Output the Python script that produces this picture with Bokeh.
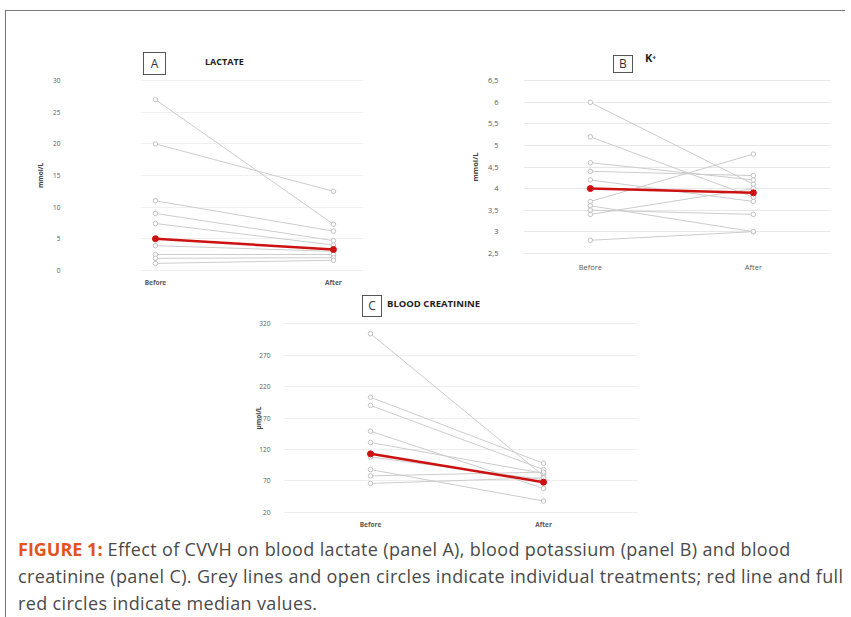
from bokeh.plotting import figure
from bokeh.models import Range1d, FixedTicker, Div
from bokeh.layouts import column, row
from bokeh.embed import file_html
from bokeh.resources import INLINE

# ---------------- data ----------------
categories = ["Before", "After"]

lactate_before = [27, 20, 11, 9, 7.4, 3.9, 2.5, 1.9, 1.1]
lactate_after = [7.3, 12.5, 6.2, 4.7, 4.0, 3.0, 2.5, 2.0, 1.6]
lactate_median = [5.0, 3.3]
lactate_ticks = [0, 5, 10, 15, 20, 25, 30]
lactate_tick_labels = ["0", "5", "10", "15", "20", "25", "30"]

potassium_before = [6.0, 5.2, 4.6, 4.4, 4.2, 3.7, 3.6, 3.5, 3.4, 2.8]
potassium_after = [4.1, 3.8, 4.2, 4.3, 3.7, 4.8, 3.0, 3.4, 4.0, 3.0]
potassium_median = [4.0, 3.9]
potassium_ticks = [2.5, 3, 3.5, 4, 4.5, 5, 5.5, 6, 6.5]
potassium_tick_labels = ["2,5", "3", "3,5", "4", "4,5", "5", "5,5", "6", "6,5"]

creatinine_before = [304, 203, 190, 149, 131, 108, 88, 78, 66]
creatinine_after = [78, 98, 88, 58, 82, 72, 38, 84, 75]
creatinine_median = [113, 68]
creatinine_ticks = [20, 70, 120, 170, 220, 270, 320]
creatinine_tick_labels = ["20", "70", "120", "170", "220", "270", "320"]

GREY = "#cccccc"
RED = "#cc1111"
TXT = "#595959"


def panel(width, height, borders, xr, yr, before, after, median, ticks, tick_labels,
          ylabel, tick_font, ylab_font, xlab_bold, label_standoff, ylab_standoff,
          grid_color):
    left, right, top, bottom = borders
    p = figure(width=width, height=height, x_range=Range1d(*xr), y_range=Range1d(*yr),
               output_backend="svg", toolbar_location=None,
               min_border_left=left, min_border_right=right,
               min_border_top=top, min_border_bottom=bottom)
    p.outline_line_color = None
    p.background_fill_color = "white"
    p.border_fill_color = "white"
    p.xgrid.visible = False
    p.ygrid.grid_line_color = grid_color
    p.ygrid.grid_line_width = 1

    xs = list(range(len(categories)))
    p.xaxis.ticker = FixedTicker(ticks=xs)
    p.xaxis.major_label_overrides = {x: c for x, c in zip(xs, categories)}
    p.yaxis.ticker = FixedTicker(ticks=ticks)
    p.yaxis.major_label_overrides = {t: l for t, l in zip(ticks, tick_labels)}
    for ax in (p.xaxis[0], p.yaxis[0]):
        ax.axis_line_color = None
        ax.major_tick_line_color = None
        ax.minor_tick_line_color = None
        ax.major_tick_out = 0
        ax.major_tick_in = 0
        ax.minor_tick_out = 0
        ax.major_label_text_color = TXT
        ax.major_label_text_font = "Open Sans"
        ax.major_label_text_font_size = tick_font
    p.xaxis.major_label_standoff = 4
    if xlab_bold:
        p.xaxis.major_label_text_font_style = "bold"
    p.yaxis.major_label_standoff = label_standoff
    p.yaxis.axis_label = ylabel
    p.yaxis.axis_label_text_font = "Open Sans"
    p.yaxis.axis_label_text_font_size = ylab_font
    p.yaxis.axis_label_text_font_style = "bold"
    p.yaxis.axis_label_text_color = "#404040"
    p.yaxis.axis_label_standoff = ylab_standoff

    # individual treatments
    p.multi_line(xs=[xs for _ in before], ys=[[b, a] for b, a in zip(before, after)],
                 line_color=GREY, line_width=1)
    p.scatter(x=[xs[0]] * len(before), y=before, size=4.5, marker="circle",
              line_color="#c2c2c2", fill_color="white", line_width=1)
    p.scatter(x=[xs[1]] * len(after), y=after, size=4.5, marker="circle",
              line_color="#c2c2c2", fill_color="white", line_width=1)
    # median
    p.line(x=xs, y=median, line_color=RED, line_width=2.5)
    p.scatter(x=xs, y=median, size=6, marker="circle", line_color=RED, fill_color=RED)
    return p


def title_div(width, height, letter, box, title, title_pos, title_size):
    bl, bt, bw, bh = box
    tl, tc = title_pos
    html = (
        f'<div style="position:relative;width:{width}px;height:{height}px;">'
        f'<div style="position:absolute;left:{bl}px;top:{bt}px;width:{bw}px;height:{bh}px;'
        f'box-sizing:border-box;border:1px solid #555;text-align:center;'
        f'line-height:{bh - 2}px;font-family:\'Open Sans\';font-size:12px;color:#333;">{letter}</div>'
        f'<div style="position:absolute;left:{tl}px;top:{tc - 8}px;height:16px;line-height:16px;'
        f'font-family:\'Open Sans\';font-weight:bold;font-size:{title_size};color:#222;'
        f'white-space:nowrap;">{title}</div>'
        f'</div>'
    )
    return Div(text=html, width=width, height=height, margin=0)


pA = panel(414, 215, (134, 57, 2, 17), (-0.084, 1.169), (-0.5, 30.5),
           lactate_before, lactate_after, lactate_median, lactate_ticks, lactate_tick_labels,
           "mmol/L", "6.5px", "6.5px", True, 80, 5, "#f0f0f0")

pB = panel(425, 215, (103, 15, 1, 33), (-0.410, 1.473), (2.4, 6.6),
           potassium_before, potassium_after, potassium_median, potassium_ticks,
           potassium_tick_labels,
           "mmol/L", "7.5px", "7.5px", False, 25, 5, "#e8e8e8")

pC = panel(652, 213, (277, 21, 2, 16), (-0.503, 1.543), (15, 325),
           creatinine_before, creatinine_after, creatinine_median, creatinine_ticks,
           creatinine_tick_labels,
           "\u00b5mol/L", "6.5px", "6.5px", True, 13, -7, "#eeeeee")

tA = title_div(414, 64, "A", (137, 41, 23, 23), "LACTATE", (199, 51), "9px")
tB = title_div(425, 64, "B", (193, 44, 20, 18), "K\u207a", (225, 47), "11px")
tC = title_div(652, 28, "C", (356, 5, 20, 22), "BLOOD CREATININE", (381, 14), "9.5px")

caption = Div(
    text=('<span style="color:#e2531d;font-weight:bold;letter-spacing:0;">FIGURE 1:</span> '
          'Effect of CVVH on blood lactate (panel A), blood potassium (panel B) and blood<br>'
          'creatinine (panel C). Grey lines and open circles indicate individual treatments; '
          'red line and full<br>red circles indicate median values.'),
    width=839, height=86, margin=0,
    styles={"font-family": "Open Sans", "font-size": "18px", "letter-spacing": "0.35px",
            "line-height": "27px", "color": "#4a4a4a", "padding-left": "12px",
            "padding-top": "5px", "white-space": "nowrap",
            "box-sizing": "border-box"})

layout = column(row(column(tA, pA), column(tB, pB)), column(tC, pC), caption,
                margin=(10, 0, 0, 5),
                styles={"border-top": "1px solid #777777", "border-left": "1px solid #777777"})

open("out.html", "w").write(file_html(layout, INLINE))
